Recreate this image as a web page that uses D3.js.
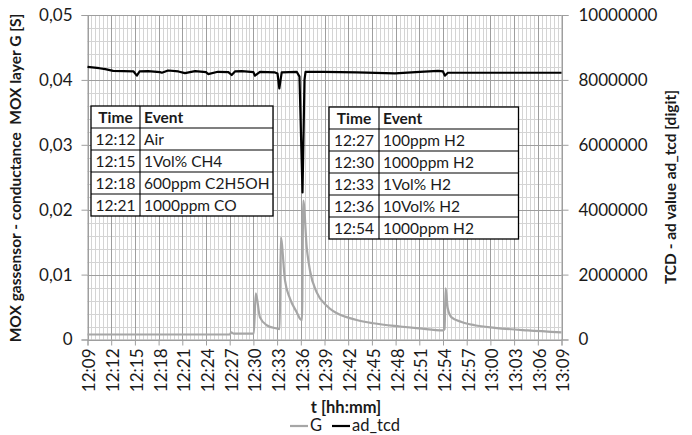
<!DOCTYPE html>
<html>
<head>
<meta charset="utf-8">
<script src="https://cdn.jsdelivr.net/npm/d3@7"></script>
<style>
  body { margin: 0; background: #fff; }
  svg text { font-family: Lato, "Open Sans", sans-serif; fill: #1a1a1a; }
</style>
</head>
<body>
<div id="chart"></div>
<script>
// ---- data ----
var gTimes = ["12:09:00","12:27:00","12:27:12","12:27:30","12:30:03","12:30:18","12:30:50","12:31:41","12:32:57",
  "12:33:20","12:33:28","12:34:00","12:34:38","12:35:29","12:35:54","12:36:09","12:36:19","12:36:45","12:37:10",
  "12:38:00","12:39:17","12:40:04","12:40:58","12:42:12","12:43:04","12:45:10","12:48:33","12:51:00","12:53:59",
  "12:54:12","12:54:20","12:54:36","12:55:05","12:56:21","12:58:00","13:00:34","13:04:44","13:09:00"];
var gValues = [0.00077,0.00077,0.0011,0.0009,0.0009,0.0071,0.0034,0.0022,0.0017,
  0.0016,0.0157,0.0091,0.0063,0.0042,0.0032,0.0030,0.0214,0.0142,0.0106,
  0.0073,0.0052,0.0044,0.0038,0.0033,0.0030,0.0025,0.0020,0.0017,0.0014,
  0.0016,0.0079,0.0048,0.0034,0.0027,0.0022,0.0018,0.0014,0.0011];

var tcdTimes = ["12:09:00","12:10:30","12:11:15","12:12:15","12:13:30","12:14:50","12:15:15","12:15:35","12:16:40",
  "12:18:10","12:18:25","12:19:12","12:20:30","12:21:20","12:22:37","12:24:00","12:24:16","12:25:30","12:26:50",
  "12:27:15","12:27:40","12:28:32","12:30:00","12:30:12","12:30:50","12:32:44","12:33:03","12:33:17","12:33:35",
  "12:35:29","12:35:50","12:36:13","12:36:28","12:36:36","12:38:49","12:43:04","12:47:55","12:51:05","12:53:22",
  "12:54:00","12:54:14","12:54:37","13:09:00"];
var tcdValues = [8400000,8360000,8330000,8280000,8270000,8260000,8130000,8260000,8270000,
  8240000,8220000,8290000,8260000,8210000,8270000,8240000,8180000,8250000,8240000,
  8150000,8260000,8270000,8240000,8130000,8250000,8230000,8200000,7740000,8230000,
  8250000,8100000,4530000,8000000,8250000,8250000,8230000,8200000,8250000,8280000,
  8260000,8130000,8220000,8220000];

var seriesNames = ["G", "ad_tcd"];
var leftTicks = [0, 0.01, 0.02, 0.03, 0.04, 0.05];
var rightTicks = [0, 2000000, 4000000, 6000000, 8000000, 10000000];

var tableHeader = ["Time", "Event"];
var table1Times = ["12:12", "12:15", "12:18", "12:21"];
var table1Events = ["Air", "1Vol% CH4", "600ppm C2H5OH", "1000ppm CO"];
var table2Times = ["12:27", "12:30", "12:33", "12:36", "12:54"];
var table2Events = ["100ppm H2", "1000ppm H2", "1Vol% H2", "10Vol% H2", "1000ppm H2"];

// ---- layout ----
var W = 692, H = 435;
var plotL = 87.5, plotR = 561.5, plotT = 15, plotB = 339.5;

var svg = d3.select("#chart").append("svg")
  .attr("width", W).attr("height", H);

var parse = d3.timeParse("%H:%M:%S");
var x = d3.scaleTime()
  .domain([parse("12:09:00"), parse("13:09:00")])
  .range([plotL, plotR]);
var yG = d3.scaleLinear().domain([0, 0.05]).range([plotB, plotT]);
var yT = d3.scaleLinear().domain([0, 10000000]).range([plotB, plotT]);

var gData = gTimes.map(function(t, i) { return {t: parse(t), v: gValues[i]}; });
var tcdData = tcdTimes.map(function(t, i) { return {t: parse(t), v: tcdValues[i]}; });

// grid
var grid = svg.append("g");
var minorX = d3.timeSecond.every(30).range(x.domain()[0], d3.timeSecond.offset(x.domain()[1], 1));
grid.selectAll(".mx").data(minorX).enter().append("line")
  .attr("x1", d => Math.round(x(d)) + 0.5).attr("x2", d => Math.round(x(d)) + 0.5)
  .attr("y1", plotT).attr("y2", plotB)
  .attr("stroke", "#d4d4d4").attr("stroke-width", 1);
var minorY = d3.range(0, 0.0501, 0.002);
grid.selectAll(".my").data(minorY).enter().append("line")
  .attr("x1", plotL).attr("x2", plotR)
  .attr("y1", d => Math.round(yG(d)) + 0.5).attr("y2", d => Math.round(yG(d)) + 0.5)
  .attr("stroke", "#d4d4d4").attr("stroke-width", 1);
var majorX = x.ticks(d3.timeMinute.every(3));
grid.selectAll(".Mx").data(majorX).enter().append("line")
  .attr("x1", d => Math.round(x(d)) + 0.5).attr("x2", d => Math.round(x(d)) + 0.5)
  .attr("y1", plotT).attr("y2", plotB)
  .attr("stroke", "#9e9e9e").attr("stroke-width", 1);
grid.selectAll(".My").data(leftTicks).enter().append("line")
  .attr("x1", plotL).attr("x2", plotR)
  .attr("y1", d => Math.round(yG(d)) + 0.5).attr("y2", d => Math.round(yG(d)) + 0.5)
  .attr("stroke", "#9e9e9e").attr("stroke-width", 1);

// axes
var locale = d3.formatLocale({decimal: ",", thousands: ".", grouping: [3], currency: ["", ""]});
var leftAxis = d3.axisLeft(yG).tickValues(leftTicks).tickSize(6).tickPadding(9)
  .tickFormat(d => d === 0 ? "0" : locale.format(".2f")(d));
var rightAxis = d3.axisRight(yT).tickValues(rightTicks).tickSize(7).tickPadding(10)
  .tickFormat(d3.format("d"));
var bottomAxis = d3.axisBottom(x).ticks(d3.timeMinute.every(3)).tickSize(6)
  .tickFormat(d3.timeFormat("%H:%M"));

function styleAxis(g) {
  g.select(".domain").attr("stroke", "#9e9e9e");
  g.selectAll(".tick line").attr("stroke", "#9e9e9e");
  g.selectAll(".tick text").attr("fill", "#1a1a1a").style("font-size", "17px");
}

svg.append("g").attr("transform", "translate(" + plotL + ",0)").call(leftAxis).call(styleAxis);
svg.append("g").attr("transform", "translate(" + plotR + ",0)").call(rightAxis).call(styleAxis);
var xg = svg.append("g").attr("transform", "translate(0," + plotB + ")").call(bottomAxis).call(styleAxis);
xg.selectAll(".tick text")
  .attr("transform", "rotate(-90)")
  .attr("text-anchor", "end")
  .attr("x", -9).attr("y", 1.5).attr("dy", "0.35em");

// series
var lineG = d3.line().x(d => x(d.t)).y(d => yG(d.v)).curve(d3.curveMonotoneX);
var lineT = d3.line().x(d => x(d.t)).y(d => yT(d.v));

svg.append("path").datum(gData).attr("d", lineG)
  .attr("fill", "none").attr("stroke", "#a6a6a6").attr("stroke-width", 2.2);
svg.append("path").datum(tcdData).attr("d", lineT)
  .attr("fill", "none").attr("stroke", "#000").attr("stroke-width", 2.2)
  .attr("stroke-linejoin", "round");

// tables
function drawTable(x0, x1, xs, y0, rowH, times, events) {
  var n = times.length + 1;
  var t = svg.append("g");
  t.append("rect").attr("x", x0).attr("y", y0).attr("width", x1 - x0).attr("height", rowH * n)
    .attr("fill", "#fff").attr("stroke", "#000").attr("stroke-width", 1.3);
  t.append("line").attr("x1", xs).attr("x2", xs).attr("y1", y0).attr("y2", y0 + rowH * n)
    .attr("stroke", "#000").attr("stroke-width", 1.1);
  d3.range(1, n).forEach(function(i) {
    t.append("line").attr("x1", x0).attr("x2", x1).attr("y1", y0 + rowH * i).attr("y2", y0 + rowH * i)
      .attr("stroke", "#000").attr("stroke-width", 1.1);
  });
  var rows = [tableHeader].concat(times.map((tm, i) => [tm, events[i]]));
  rows.forEach(function(r, i) {
    var base = y0 + rowH * (i + 1) - 5;
    t.append("text").attr("x", (x0 + xs) / 2).attr("y", base).attr("text-anchor", "middle")
      .style("font-size", "15.5px").style("font-weight", i === 0 ? "bold" : "normal").text(r[0]);
    t.append("text").attr("x", xs + 4).attr("y", base)
      .style("font-size", "15.5px").style("font-weight", i === 0 ? "bold" : "normal").text(r[1]);
  });
}
drawTable(91, 273, 140, 106, 22, table1Times, table1Events);
drawTable(329, 518.5, 379, 107, 22, table2Times, table2Events);

// axis titles
svg.append("text")
  .attr("transform", "translate(21,178) rotate(-90)")
  .attr("text-anchor", "middle").style("font-size", "15.5px").style("font-weight", "bold")
  .style("white-space", "pre")
  .text("MOX gassensor - conductance  MOX layer G [S]");
svg.append("text")
  .attr("transform", "translate(676,187) rotate(-90)")
  .attr("text-anchor", "middle").style("font-size", "15.5px").style("font-weight", "bold")
  .text("TCD - ad value ad_tcd [digit]");
svg.append("text")
  .attr("x", 346).attr("y", 413).attr("text-anchor", "middle")
  .style("font-size", "16.5px").style("font-weight", "bold")
  .text("t [hh:mm]");

// legend
var legend = svg.append("g");
var legendX = [290, 332];
var legendColors = ["#a6a6a6", "#000"];
seriesNames.forEach(function(name, i) {
  legend.append("line").attr("x1", legendX[i]).attr("x2", legendX[i] + 18)
    .attr("y1", 426).attr("y2", 426)
    .attr("stroke", legendColors[i]).attr("stroke-width", 2.2);
  legend.append("text").attr("x", legendX[i] + 20).attr("y", 431)
    .style("font-size", "16.5px").text(name);
});
</script>
</body>
</html>
